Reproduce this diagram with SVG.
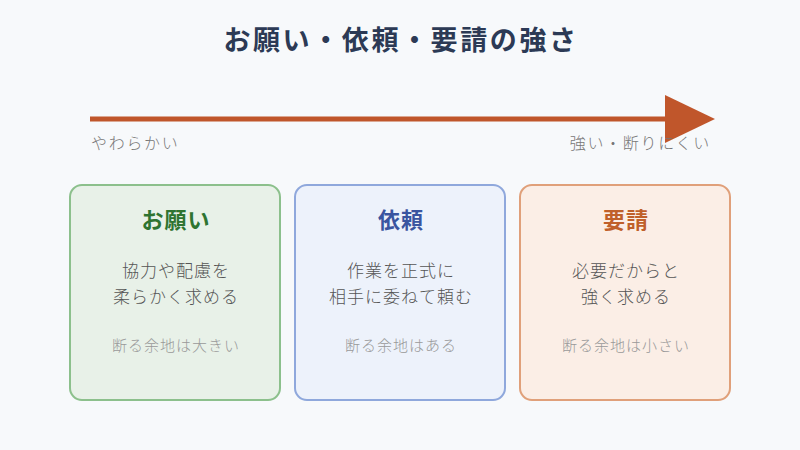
<svg xmlns="http://www.w3.org/2000/svg" width="800" height="450" viewBox="0 0 800 450">
<style>
text{font-family:"Noto Sans CJK JP","Noto Sans",sans-serif;text-anchor:middle}
.title{font-size:27px;font-weight:bold;fill:#2c3a55;letter-spacing:2.6px}
.axis{font-size:16px;fill:#777;letter-spacing:1.7px;font-weight:300}
.h{font-size:22px;font-weight:bold;letter-spacing:1px}
.b{font-size:17px;fill:#555;letter-spacing:1px;font-weight:300}
.s{font-size:15px;fill:#999;letter-spacing:1px;font-weight:300}
.box{stroke-width:2}
</style>
<rect width="800" height="450" fill="#f7f9fb"/>
<text class="title" x="401" y="50">お願い・依頼・要請の強さ</text>
<g id="connectors">
<line x1="90" y1="119" x2="668" y2="119" stroke="#c0562b" stroke-width="5"/>
<polygon points="665,95 715,119 665,143" fill="#c0562b"/>
</g>
<text class="axis" x="91" y="149" style="text-anchor:start">やわらかい</text>
<text class="axis" x="711" y="149" style="text-anchor:end">強い・断りにくい</text>
<g id="onegai">
<rect class="box" x="70" y="185" width="210" height="215" rx="12" fill="#e8f1e8" stroke="#8cc08c"/>
<text class="h" x="176" y="228" fill="#2e7431">お願い</text>
<text class="b" x="176" y="277">協力や配慮を</text>
<text class="b" x="176" y="303">柔らかく求める</text>
<text class="s" x="176" y="351">断る余地は大きい</text>
</g>
<g id="irai">
<rect class="box" x="295" y="185" width="210" height="215" rx="12" fill="#edf2fb" stroke="#8fa8dc"/>
<text class="h" x="401" y="228" fill="#3a55a0">依頼</text>
<text class="b" x="401" y="277">作業を正式に</text>
<text class="b" x="401" y="303">相手に委ねて頼む</text>
<text class="s" x="401" y="351">断る余地はある</text>
</g>
<g id="yousei">
<rect class="box" x="520" y="185" width="210" height="215" rx="12" fill="#fbeee6" stroke="#e0a07a"/>
<text class="h" x="626" y="228" fill="#c0602a">要請</text>
<text class="b" x="626" y="277">必要だからと</text>
<text class="b" x="626" y="303">強く求める</text>
<text class="s" x="626" y="351">断る余地は小さい</text>
</g>
</svg>
